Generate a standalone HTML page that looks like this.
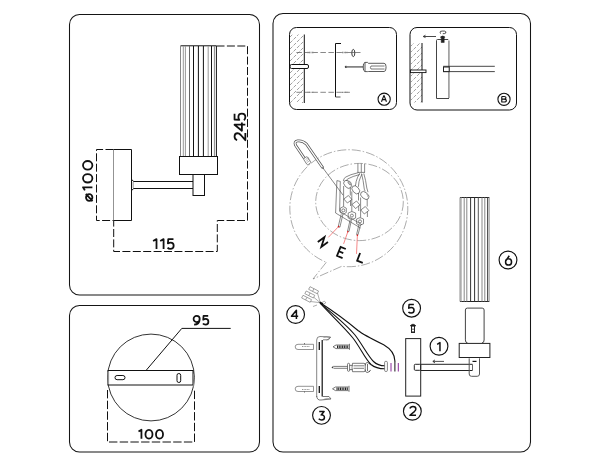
<!DOCTYPE html>
<html><head><meta charset="utf-8">
<style>
html,body{margin:0;padding:0;background:#fff;}
body{width:600px;height:466px;overflow:hidden;}
svg{display:block;}
text{font-family:"Liberation Sans",sans-serif;}
</style></head><body>
<svg width="600" height="466" viewBox="0 0 600 466">
<rect width="600" height="466" fill="#fff"/>
<g fill="none" stroke="#151515" stroke-width="1.05">
  <!-- panels -->
  <rect x="69.5" y="14.5" width="190" height="280.5" rx="10"/>
  <rect x="69.5" y="305.5" width="190" height="146.5" rx="10"/>
  <rect x="273" y="13.5" width="257.5" height="438.5" rx="10"/>
</g>

<!-- ===== top-left lamp ===== -->
<g fill="none" stroke="#111" stroke-width="1">
  <!-- shade -->
  <path d="M180.5 45.8 H216.5"/>
  <path d="M180.5 46 V156.5" stroke="#888"/>
  <path d="M183.3 46 V156.5" stroke="#999"/>
  <path d="M185.4 46 V156.5" stroke="#999"/>
  <path d="M189.5 46 V156.5" stroke="#666"/>
  <path d="M193.5 46 V156.5" stroke="#111"/>
  <path d="M198.4 46 V156.5" stroke="#111"/>
  <path d="M203.4 46 V156.5" stroke="#111"/>
  <path d="M208.2 46 V156.5" stroke="#999"/>
  <path d="M211.5 46 V156.5" stroke="#111"/>
  <path d="M214.4 46 V156.5" stroke="#888"/>
  <path d="M216.4 46 V156.5" stroke="#111"/>
  <!-- collar -->
  <rect x="179.5" y="156.5" width="38" height="18"/>
  <!-- socket -->
  <rect x="193" y="174.5" width="11.5" height="21"/>
  <!-- arm -->
  <path d="M133.5 181.5 H193 M133.5 188.5 H193"/>
  <path d="M131.5 179.8 Q133.5 180.5 133.5 181.5 M131.5 190.2 Q133.5 189.5 133.5 188.5"/>
  <path d="M133.2 182 V188" stroke="#aaa" stroke-width="1.2"/>
  <!-- base plate -->
  <path d="M113.5 149.5 H131.5 V220.5 H113.5"/>
  <path d="M113.5 149.5 V220.5" stroke="#777" stroke-width="0.8"/>
</g>
<g fill="none" stroke="#111" stroke-width="1" stroke-dasharray="8 2.4">
  <path d="M216.5 46 H247.5 V220.5 H217.3 V251.5 H113.7 V220.5"/>
  <path d="M113.5 149.5 H96.5 V220.5 H113.5"/>
</g>
<!--DIMTEXT--><g fill="none" stroke="#111" stroke-linecap="butt" stroke-linejoin="round">
<path transform="translate(152.2 238.2)" stroke-width="1.8" d="M 0.9 2.86 L 4.3 0.9 V 10.7 M 8 2.86 L 11.39 0.9 V 10.7 M 21.27 0.9 H 16.08 L 15.69 5.21 C 16.57 4.62 17.55 4.38 18.43 4.38 C 20.29 4.38 21.47 5.7 21.47 7.51 C 21.47 9.43 20.1 10.7 18.33 10.7 C 17.06 10.7 15.98 10.21 15.39 9.43"/>
<path transform="translate(137.6 428.9)" stroke-width="1.8" d="M 0.9 2.68 L 3.84 0.9 V 9.8 M 11.36 0.9 C 13.65 0.9 14.89 3.12 14.89 5.35 C 14.89 7.57 13.65 9.8 11.36 9.8 C 9.07 9.8 7.84 7.57 7.84 5.35 C 7.84 3.12 9.07 0.9 11.36 0.9 Z M 21.91 0.9 C 24.2 0.9 25.43 3.12 25.43 5.35 C 25.43 7.57 24.2 9.8 21.91 9.8 C 19.62 9.8 18.39 7.57 18.39 5.35 C 18.39 3.12 19.62 0.9 21.91 0.9 Z"/>
<path transform="translate(192.7 315.0)" stroke-width="1.75" d="M 3.94 0.88 C 5.69 0.88 7 2.19 7 3.94 C 7 5.69 5.69 7 3.94 7 C 2.19 7 0.88 5.69 0.88 3.94 C 0.88 2.19 2.19 0.88 3.94 0.88 Z M 6.91 4.38 C 6.83 7.44 4.81 9.62 1.4 9.62 M 15.5 0.88 H 10.86 L 10.51 4.72 C 11.3 4.2 12.18 3.98 12.96 3.98 C 14.62 3.98 15.68 5.16 15.68 6.78 C 15.68 8.49 14.45 9.62 12.88 9.62 C 11.74 9.62 10.78 9.19 10.25 8.49"/>
<path transform="translate(233.65 141.3) rotate(-90)" stroke-width="1.8" d="M 1.12 3.49 C 1.55 1.87 2.95 0.9 4.68 0.9 C 6.62 0.9 8.03 2.2 8.03 3.92 C 8.03 5.22 7.38 6.08 6.3 7.16 L 1.12 11.7 H 8.24 M 16.59 11.7 V 0.9 L 10.54 8.24 H 18.75 M 27.53 0.9 H 21.81 L 21.38 5.65 C 22.35 5 23.43 4.73 24.4 4.73 C 26.45 4.73 27.75 6.19 27.75 8.19 C 27.75 10.3 26.24 11.7 24.29 11.7 C 22.89 11.7 21.7 11.16 21.05 10.3"/>
<path transform="translate(82.1 201.7) rotate(-90)" stroke-width="1.8" d="M 4.25 3.91 C 6.09 3.91 7.6 5.32 7.6 7.1 C 7.6 8.89 6.09 10.3 4.25 10.3 C 2.41 10.3 0.9 8.89 0.9 7.1 C 0.9 5.32 2.41 3.91 4.25 3.91 Z M 0.68 10.49 L 7.82 3.72 M 11.3 2.78 L 14.4 0.9 V 10.3 M 23.34 0.9 C 26.03 0.9 27.48 3.25 27.48 5.6 C 27.48 7.95 26.03 10.3 23.34 10.3 C 20.65 10.3 19.2 7.95 19.2 5.6 C 19.2 3.25 20.65 0.9 23.34 0.9 Z M 36.4 0.9 C 39.21 0.9 40.72 3.25 40.72 5.6 C 40.72 7.95 39.21 10.3 36.4 10.3 C 33.59 10.3 32.08 7.95 32.08 5.6 C 32.08 3.25 33.59 0.9 36.4 0.9 Z"/>
<path transform="translate(436.4 341.9)" stroke-width="1.5" d="M 0.75 2.45 L 3.56 0.75 V 9.25"/>
<path transform="translate(409.0 405.7)" stroke-width="1.5" d="M 0.93 2.86 C 1.3 1.54 2.51 0.75 3.98 0.75 C 5.65 0.75 6.85 1.81 6.85 3.21 C 6.85 4.27 6.29 4.97 5.37 5.85 L 0.93 9.55 H 7.03"/>
<path transform="translate(318.0 410.7)" stroke-width="1.5" d="M 1.18 0.75 H 6.08 L 3.16 4.19 C 5.05 4.02 6.43 5.22 6.43 6.77 C 6.43 8.32 5.22 9.35 3.59 9.35 C 2.47 9.35 1.44 8.92 0.75 8.15"/>
<path transform="translate(290.7 309.4)" stroke-width="1.5" d="M 5.71 9.6 V 0.75 L 0.75 6.77 H 7.48"/>
<path transform="translate(407.7 303.7)" stroke-width="1.5" d="M 6.17 0.75 H 1.38 L 1.02 4.53 C 1.83 4.02 2.74 3.8 3.55 3.8 C 5.26 3.8 6.35 4.96 6.35 6.55 C 6.35 8.23 5.08 9.35 3.46 9.35 C 2.29 9.35 1.29 8.92 0.75 8.23"/>
<path transform="translate(380.9 94.8)" stroke-width="1.15" d="M 0.57 7.02 L 3.07 0.57 L 5.56 7.02 M 1.58 4.83 H 4.55"/>
<path transform="translate(501.2 95.9)" stroke-width="1.15" d="M 0.57 0.57 H 2.94 C 4.06 0.57 4.8 1.13 4.8 1.96 C 4.8 2.79 4.06 3.24 2.94 3.24 H 0.57 M 2.94 3.24 C 4.3 3.24 5.17 3.79 5.17 4.68 C 5.17 5.57 4.3 6.13 2.94 6.13 H 0.57 V 0.57"/>
<path transform="translate(504.8 255.0)" stroke-width="1.5" d="M 4.46 0.75 L 1.37 5.4 M 3.75 3.73 C 5.43 3.73 6.76 5.12 6.76 6.89 C 6.76 8.66 5.43 10.05 3.75 10.05 C 2.08 10.05 0.75 8.66 0.75 6.89 C 0.75 5.12 2.08 3.73 3.75 3.73 Z"/>
</g><!--/DIMTEXT-->

<!-- ===== bottom-left plate ===== -->
<g fill="none" stroke="#111" stroke-width="1">
  <circle cx="151" cy="377.5" r="43.4" stroke-width="0.85"/>
  <rect x="108" y="370.5" width="85" height="14.5" fill="#fff"/>
  <rect x="115" y="375.5" width="10" height="4.2" rx="2.1"/>
  <rect x="177" y="373.5" width="3.7" height="9" rx="1.8"/>
  <path d="M193.2 373.7 Q195 380.5 193.2 387.4" stroke="#888"/>
  <path d="M108.3 372 V384" stroke="#999" stroke-width="1.6"/>
  <path d="M146 370.5 L181.8 328.4 H230.7"/>
</g>
<g fill="none" stroke="#111" stroke-width="1" stroke-dasharray="8.4 2.3">
  <path d="M107.5 390 V442 H194.5 V390"/>
</g>



<!-- ===== right panel: A ===== -->
<defs>
  <clipPath id="wallA"><rect x="290" y="34.5" width="14" height="68.5"/></clipPath>
  <clipPath id="wallB"><rect x="410.5" y="43" width="11.5" height="59.5"/></clipPath>
</defs>
<g fill="none" stroke="#111" stroke-width="1">
  <rect x="289.5" y="27.5" width="107" height="82" rx="7"/>
  <rect x="410" y="27.5" width="106.5" height="82.5" rx="7"/>
</g>
<g clip-path="url(#wallA)" stroke="#777" stroke-width="0.7" fill="none" stroke-dasharray="3.5 1.5">
  <path d="M290 37 l14 -14 M290 43 l14 -14 M290 49 l14 -14 M290 55 l14 -14 M290 61 l14 -14 M290 67 l14 -14 M290 73 l14 -14 M290 79 l14 -14 M290 85 l14 -14 M290 91 l14 -14 M290 97 l14 -14 M290 103 l14 -14 M290 109 l14 -14 M290 115 l14 -14 M290 121 l14 -14"/>
</g>
<g clip-path="url(#wallB)" stroke="#777" stroke-width="0.7" fill="none" stroke-dasharray="3.5 1.5">
  <path d="M410 47 l12 -12 M410 53 l12 -12 M410 59 l12 -12 M410 65 l12 -12 M410 71 l12 -12 M410 77 l12 -12 M410 83 l12 -12 M410 89 l12 -12 M410 95 l12 -12 M410 101 l12 -12 M410 107 l12 -12 M410 113 l12 -12"/>
</g>
<g fill="none" stroke="#111" stroke-width="1">
  <path d="M304.3 34.5 V103"/>
  <rect x="290" y="64.5" width="18.5" height="4" rx="1.5" fill="#fff"/>
  <path d="M335.5 43.5 V97 M335.5 43.5 H341"/>
  <path d="M335.5 97 H340.5" stroke="#555"/>
</g>
<g fill="none" stroke="#555" stroke-width="0.7" stroke-dasharray="5.5 2.5">
  <path d="M296.4 52.5 H349"/>
  <path d="M296.4 92.3 H352"/>
</g>
<g fill="none" stroke="#333" stroke-width="0.8">
  <path d="M307.5 52.5 h6.5 M342 52.5 h5.5 M307.5 92.3 h6.5 M342 92.3 h5.5" stroke-width="1.3" stroke="#888" stroke-dasharray="1 0.5"/>
  <ellipse cx="353.3" cy="53" rx="1.5" ry="3.6" stroke="#222" stroke-width="0.9"/>
  <path d="M349 52.5 H360.5" stroke="#555" stroke-width="0.7"/>
  <!-- screwdriver -->
  <circle cx="346" cy="66.9" r="0.8" fill="#111"/>
  <path d="M346 66.9 H363.3" stroke="#777" stroke-width="1.6"/>
  <path d="M365 62.4 q-2 0.5 -1.8 4.6 q-0.2 4.1 1.8 4.6 z" stroke="#333"/>
  <path d="M365 62.4 H367.5 L368.5 63.3 H384 q2 0 2 3.2 v1.6 q0 3.4 -2 3.4 H368.5 L367.5 71.6 H365" stroke="#333"/>
  <path d="M371 66 H384.5 M371 69 H384.5 M371 66 q-1.2 1.5 0 3" stroke="#555"/>
</g>
<g fill="none" stroke="#111" stroke-width="1.1">
  <circle cx="384.15" cy="99.2" r="6.1"/>
  <circle cx="504" cy="99.3" r="6.1"/>
</g>
<!-- ===== B contents ===== -->
<g fill="none" stroke="#111" stroke-width="1">
  <path d="M422 43 V102.5"/>
  <rect x="410.5" y="70" width="15.5" height="2.6" fill="#fff" stroke-width="0.9"/>
  <path d="M449 98.5 H436.5 V40.5 q0 -1 1 -1 H448.2" stroke="#444"/>
  <path d="M448.9 40.5 V98" stroke="#999" stroke-width="1.6"/>
  <path d="M443.2 66.3 H494.8 M443.2 71.6 H494.8" stroke="#333" stroke-width="0.9"/>
  <rect x="443.5" y="67" width="5.7" height="4.6" fill="#fff" stroke="#222"/>
  <path d="M423.5 36.5 H436" stroke="#333" stroke-width="0.9"/>
  <path d="M425.5 35.2 L423.2 36.5 L425.5 37.6" stroke="#333" stroke-width="0.9"/>
  <path d="M441.2 37 h3 v5.5 h-3 z M440.3 37.2 Q442.7 34.6 445.1 37.2 Z" fill="#222" stroke="#222" stroke-width="0.5"/>
  <path d="M441 33.6 Q439.2 32.8 440.5 31.4 Q442 30.9 444.5 31.1 Q446.4 31.5 445.8 33 Q445 33.8 442.8 33.7" stroke="#222" stroke-width="0.8"/>
</g>


<!-- ===== wiring bubble ===== -->
<g fill="none" stroke="#666" stroke-width="0.55" stroke-dasharray="9 2 1.5 2">
  <path d="M326.3 262.3 L313 279 L341.7 266.3 A59 58.5 0 1 0 326.3 262.3"/>
  <ellipse cx="359.5" cy="202" rx="43.8" ry="38.6"/>
</g>
<g fill="none" stroke="#4a4a4a" stroke-width="0.65">
  <!-- hook wire -->
  <path d="M304.5 158.5 L295.6 145.3 Q293.8 141.6 297.6 140.9 Q302.5 140.2 306.3 144 L322.8 167.8" stroke="#555" stroke-width="2.8"/>
  <path d="M304.5 158.5 L295.6 145.3 Q293.8 141.6 297.6 140.9 Q302.5 140.2 306.3 144 L322.8 167.8" stroke="#fff" stroke-width="1.3"/>
  <rect x="305" y="157" width="4.5" height="7.5" rx="1" transform="rotate(-33 307.2 160.8)" fill="#fff" stroke="#555"/>
  <path d="M305.5 159.5 l3 -2 M306.3 161 l3 -2 M307 162.5 l3 -2" stroke="#777" stroke-width="0.5"/>
  <circle cx="323" cy="168" r="0.8" fill="#222" stroke="none"/>
  <path d="M322.8 167.8 L343.2 195.3" stroke="#444"/>
  <!-- back plate -->
  <path d="M336.9 180.6 L335.6 213 L360.5 228 M340.3 181.4 L339.6 211.3 L362 224.8 M336.9 180.6 L340.3 181.4"/>
  <!-- top wires -->
  <path d="M357.9 163.5 V172.4 M361.3 163.5 V172.4 M364.6 163.5 V172.4 M357.6 172.4 H365"/>
  <path d="M358.5 172.6 Q350 174.5 345.4 177.2 Q343.6 178.8 343.3 181 M359.8 174.5 Q352.5 176.3 348 178.8 Q346.3 180 346.2 181"/>
  <path d="M359.8 173.2 Q357.3 177 356.2 181.4 L355.4 186 M362 174 Q360 178 359 181.6 L358.4 186.8"/>
  <path d="M361.5 173.5 Q363.3 180 364.3 189.2 L365.2 191.3 M363.8 173.5 Q365.8 180 366.8 188 L368 192.2"/>
  <!-- column 1 -->
  <ellipse cx="347.6" cy="184.3" rx="4.6" ry="3.1" transform="rotate(48 347.6 184.3)"/>
  <ellipse cx="349.6" cy="183" rx="1.2" ry="2.3" transform="rotate(-35 349.6 183)" fill="#bbb" stroke="#777"/>
  <path d="M343.6 186 V206.5 M350.3 187.5 V195.5 M350.5 200.5 V206"/>
  <path d="M343.8 199 L348.4 195.5 L351.9 199.5 L347.4 203 Z"/>
  <path d="M340.3 208.2 L343.3 206.6 L346.3 208.2 L346.3 212.5 L343.3 214.2 L340.3 212.5 Z"/>
  <circle cx="343.3" cy="210.4" r="1.5"/>
  <path d="M341.2 214.3 L338.2 226.8 M342.9 214.3 L339.9 227.2 M338.2 226.8 L339.9 227.2"/>
  <!-- column 2 -->
  <ellipse cx="355.8" cy="189.8" rx="4.6" ry="3.1" transform="rotate(48 355.8 189.8)"/>
  <path d="M351.8 191.5 V211.5 M358.5 193 V200.5 M358.7 205.5 V211"/>
  <path d="M352 204.5 L356.5 201 L360 205 L355.5 208.5 Z"/>
  <path d="M348.2 213 L351.9 211.5 L355.6 213 L355.6 218 L351.9 219.5 L348.2 218 Z"/>
  <circle cx="351.9" cy="215.6" r="1.5"/>
  <path d="M350.2 219.5 L347.6 231 M351.5 219.5 L349 231.5 M347.6 231 L349 231.5"/>
  <!-- column 3 -->
  <ellipse cx="364.8" cy="195.5" rx="4.8" ry="3.1" transform="rotate(40 364.8 195.5)"/>
  <path d="M366.5 194 q1.5 0.8 1.2 2.8" stroke="#888"/>
  <path d="M360.6 197.5 V217.5 M367.2 199 V206.5 M367.4 211.5 V217"/>
  <path d="M360.8 210 L365.3 206.5 L368.8 210.5 L364.3 214 Z"/>
  <path d="M356.6 219 L360 217.6 L363.5 219 L363.5 223.8 L360 225.2 L356.6 223.8 Z"/>
  <circle cx="360" cy="221.4" r="1.5"/>
  <path d="M358.8 225 L356.6 234.5 M360.5 225 L358 234.8 M356.6 234.5 L358 234.8"/>
</g>
<g fill="none" stroke="#f26a6a" stroke-width="0.8">
  <path d="M338.3 226.8 L328.3 237.4"/>
  <path d="M347.7 232.1 L343.6 243.9"/>
  <path d="M357.4 235 L356.5 253.9"/>
</g>
<g fill="#e01818">
  <circle cx="338.6" cy="226.6" r="0.8"/>
  <circle cx="347.8" cy="231.8" r="0.8"/>
  <circle cx="357.4" cy="235.3" r="0.8"/>
</g>
<g fill="none" stroke="#111" stroke-width="1.8" stroke-linejoin="miter">
  <path transform="translate(317.8 242) rotate(54) translate(0 -8.2)" d="M0 8.2 V0 L6 8.2 V0"/>
  <path transform="translate(340.6 246.9) rotate(22)" d="M5.6 0 H0 V9.6 H6 M0 4.7 H4.8"/>
  <path transform="translate(360.1 253) rotate(21)" d="M0 0 V8.2 H6"/>
</g>


<!-- ===== lower right parts ===== -->
<g fill="none" stroke="#111" stroke-width="1.15">
  <circle cx="295.6" cy="314.5" r="8.9"/>
  <circle cx="321.5" cy="415.35" r="8.9"/>
  <circle cx="412.35" cy="411.3" r="8.9"/>
  <circle cx="411.6" cy="308.2" r="8.9"/>
  <circle cx="439" cy="346.25" r="8.9"/>
  <circle cx="508" cy="260" r="8.9"/>
</g>
<!-- connector 4 -->
<g fill="#fff" stroke="#777" stroke-width="0.6">
  <g transform="rotate(27 313.6 290.2)"><rect x="308.8" y="288.7" width="9.6" height="3"/><path d="M313.2 288.7 v3"/></g>
  <g transform="rotate(27 309.8 294.5)"><rect x="305" y="293" width="9.6" height="3"/><path d="M309.4 293 v3"/></g>
  <g transform="rotate(27 306.6 298.8)"><rect x="301.8" y="297.3" width="9.6" height="3"/><path d="M306.2 297.3 v3"/></g>
</g>
<g fill="none" stroke="#777" stroke-width="0.6">
  <path d="M317.5 293 L320.2 302.7 M313.8 297.3 L320.2 302.7 M310.5 301.5 L320.2 302.7"/>
  <path d="M322 302.5 l2.5 -1.3 l1.3 1.6 l-2.6 1.6 M313 306.5 l4 -1.5"/>
</g>
<!-- wires -->
<g fill="none" stroke="#111" stroke-width="1.1">
  <path d="M320.2 302.7 C330 309 348 322 358 330.5 C363 334.5 370 338 383.7 344.8 C390 348.5 394.8 353 394.9 361 V362"/>
  <path d="M320.2 303.2 C330 311.5 346 324 355 335 C362 344 368 356 373.5 361.5 C377 365 381 365.8 385 365.8"/>
  <path d="M320.2 303.2 C329 313 343 326 352.5 337.5 C359.5 346 365 359 371 364.5 C375 368 380 368.8 385 368.8"/>
</g>
<path d="M319.8 302.2 L322.8 304.3" stroke="#111" stroke-width="2"/>
<g fill="#fff" stroke="#555" stroke-width="0.7">
  <rect x="384.6" y="361.3" width="2.8" height="10.2" rx="1.2"/>
</g>
<g stroke="#8a2a9a" stroke-width="1">
  <path d="M391 363 V371.5 M398.3 363 V371.5"/>
</g>
<path d="M394.9 362 V371.5" stroke="#111" stroke-width="1"/>
<!-- screwdriver 2 -->
<g fill="none" stroke="#444" stroke-width="0.7">
  <path d="M332.1 367.5 L333.5 366.4 H347.5 M333.5 368.3 H347.5"/>
  <circle cx="332.5" cy="367.4" r="0.5" fill="#111"/>
  <rect x="347.5" y="363.3" width="2.1" height="8" rx="1"/>
  <path d="M349.6 365.4 h3 M349.6 369.6 h3"/>
  <path d="M352.5 363.3 H364 q1.2 0 1.2 1.5 v5.4 q0 1.5 -1.2 1.5 H352.5 q-1 -4.2 0 -8.4"/>
  <path d="M353.5 365.8 H364 M353.5 368.3 H364"/>
  <path d="M365.2 365.5 Q365 363 367 362.5 Q369.5 362.8 370 364.5 M365.2 369.5 Q365 372 367 372.5 Q369.5 372.2 370 370.5 M367.5 364 V371" stroke="#333"/>
  <path d="M369 363.2 l1.6 1.5 M369 371.8 l1.6 -1.5" stroke="#222"/>
</g>
<!-- bracket 3 -->
<g fill="none" stroke="#333" stroke-width="0.8">
  <path d="M316.7 397 V340 Q316.7 336.5 320 336.5 L330.5 337 L328.5 339.8 H323" stroke="#666"/>
  <path d="M323.5 337.3 Q326 336.3 330.5 337.5 L326.5 340.2" stroke="#666" stroke-width="0.6"/>
  <path d="M322.2 340 V396.5" stroke="#111" stroke-width="1.2"/>
  <path d="M316.7 396 Q317 400.5 321 400 L331 399 L329 396.5 H322.5" stroke="#555"/>
  <path d="M323.5 399.5 Q327 397.5 330 398.8" stroke="#777" stroke-width="0.6"/>
  <path d="M319.3 342 V350 M319.3 386 V393" stroke="#111" stroke-width="1.3"/>
  <!-- dowels -->
  <path d="M313.5 344.3 H298 Q295.2 344.3 295.2 346.9 Q295.2 349.5 298 349.5 H313.5 Z" stroke="#666" stroke-width="0.7"/>
  <path d="M313.5 386.3 H298 Q295.2 386.3 295.2 388.9 Q295.2 391.5 298 391.5 H313.5 Z" stroke="#666" stroke-width="0.7"/>
  <path d="M304.5 344.3 v-1.2 M304.5 391.5 v1" stroke="#444" stroke-width="0.8"/>
  <path d="M302 346.5 h8 M302 389.5 h8" stroke="#777" stroke-dasharray="1 0.6"/>
  <!-- screws -->
  <path d="M333 346.8 L336 345 H349 M333 346.8 L336 348.6 H349 M349.5 343.8 V349.8" stroke="#555"/>
  <path d="M337 346.8 h11.5" stroke="#222" stroke-width="2.4" stroke-dasharray="1.1 0.6"/>
  <path d="M332.5 388.8 L335.5 387 H348.5 M332.5 388.8 L335.5 390.6 H348.5 M349 385.8 V391.8" stroke="#555"/>
  <path d="M336.5 388.8 h11.5" stroke="#222" stroke-width="2.4" stroke-dasharray="1.1 0.6"/>
</g>
<!-- 5 screw -->
<g fill="none" stroke="#444" stroke-width="0.8">
  <path d="M410.2 325.9 Q411.3 324.2 413 324.2 Q414.7 324.2 415.9 325.9 Z" fill="#111" stroke="#111" stroke-width="0.6"/>
  <rect x="411.5" y="326" width="3" height="6.5" stroke="#222" stroke-width="1"/>
  <path d="M411.5 329.2 h3 M411.5 331.8 h3" stroke="#333" stroke-width="0.8"/>
</g>
<!-- 2 plate + arm -->
<g fill="none" stroke="#222" stroke-width="1">
  <rect x="405.7" y="338.6" width="15" height="57.5"/>
  <path d="M420.7 364.3 H472.5 M420.7 370.5 H472.5"/>
  <rect x="414.3" y="364.3" width="6.4" height="6" rx="1"/>
  <path d="M433 361.4 H444 M435 359.9 L432.8 361.4 L435 362.9" stroke-width="0.8"/>
</g>
<!-- 1 lamp parts -->
<g fill="none" stroke="#222" stroke-width="1">
  <path d="M469.2 358.3 V374 q0 2.3 2.3 2.3 h5.7 q2.3 0 2.3 -2.3 V358.3" stroke="#555"/>
  <path d="M472.5 361.4 h4" stroke="#111" stroke-width="1.2"/>
  <path d="M472.5 364.3 V370.5" stroke="#666"/>
  <rect x="459.2" y="343.4" width="30.7" height="14.1"/>
  <path d="M467.5 342.9 q-2.1 0 -2.1 -3 V310 q0 -1.9 1.9 -1.9 h14.9 q1.9 0 1.9 1.9 V340 q0 2.9 -2.1 2.9" stroke="#444"/>
</g>
<!-- 6 shade -->
<g fill="none" stroke="#222" stroke-width="1">
  <path d="M460 197.5 H489.3 M460 301.5 H489.3"/>
  <path d="M460.1 197.5 V301.5" stroke="#777"/>
  <path d="M461.2 197.5 V301.5" stroke="#aaa"/>
  <path d="M464.2 197.5 V301.5" stroke="#888"/>
  <path d="M466.8 197.5 V301.5" stroke="#888"/>
  <path d="M470.6 197.5 V301.5" stroke="#333"/>
  <path d="M474.6 197.5 V301.5" stroke="#333"/>
  <path d="M478.3 197.5 V301.5" stroke="#555"/>
  <path d="M482 197.5 V301.5" stroke="#888"/>
  <path d="M484.8 197.5 V301.5" stroke="#888"/>
  <path d="M487.6 197.5 V301.5" stroke="#444"/>
  <path d="M489.1 197.5 V301.5" stroke="#888"/>
</g>

</svg>
</body></html>
